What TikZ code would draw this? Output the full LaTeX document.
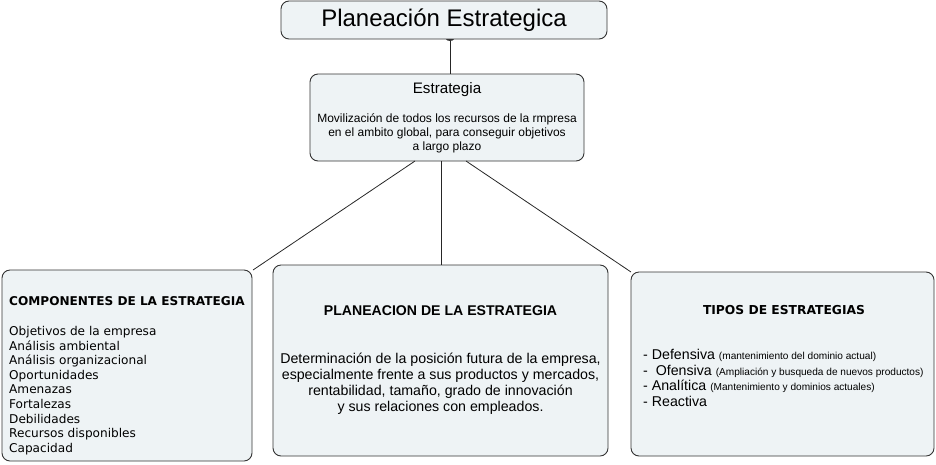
\documentclass[tikz,border=0pt]{standalone}
\usepackage{fontspec}
\setmainfont{Liberation Sans}
\newfontfamily\verd{DejaVu Sans}
\definecolor{boxfill}{HTML}{EEF3F5}
\definecolor{boxline}{HTML}{333333}
\begin{document}
\begin{tikzpicture}[x=1pt,y=-1pt,
  cbox/.style={draw=boxline,fill=boxfill,rounded corners=8pt,line width=0.9pt,inner sep=0pt},
  conn/.style={draw=black!85,line width=0.8pt},
  txt/.style={inner sep=0pt,align=center}]
\useasboundingbox (0,0) rectangle (936,464);
% boxes
\node[cbox,minimum width=326pt,minimum height=38pt] (top) at (444,20) {};
\node[cbox,minimum width=274pt,minimum height=87pt] (est) at (447,117.5) {};
\node[cbox,minimum width=250pt,minimum height=191pt] (comp) at (127,365.5) {};
\node[cbox,minimum width=335pt,minimum height=191pt] (plan) at (440.5,360.5) {};
\node[cbox,minimum width=303pt,minimum height=184pt] (tipos) at (782.5,364) {};
% texts
\node[txt,font=\fontsize{24}{26}\selectfont] (t1) at (444,20.5) {Planeación Estrategica};
\node[txt,font=\fontsize{15.2}{17}\selectfont] (t2) at (447,89.5) {Estrategia};
\node[txt,font=\fontsize{12}{14}\selectfont] (t3) at (447,133.5) {Movilización de todos los recursos de la rmpresa\\en el ambito global, para conseguir objetivos\\a largo plazo};
\node[txt,anchor=west,font=\verd\bfseries\fontsize{12.1}{14}\selectfont] (t4) at (9,301) {COMPONENTES DE LA ESTRATEGIA};
\node[txt,anchor=north west,align=left,font=\verd\fontsize{12.1}{14.6}\selectfont] (t5) at (9,326) {Objetivos de la empresa\\Análisis ambiental\\Análisis organizacional\\Oportunidades\\Amenazas\\Fortalezas\\Debilidades\\Recursos disponibles\\Capacidad};
\node[txt,font=\bfseries\fontsize{14.1}{16}\selectfont] (t6) at (440.5,311) {PLANEACION DE LA ESTRATEGIA};
\node[txt,font=\fontsize{14.2}{16}\selectfont] (t7) at (440.5,384) {Determinación de la posición futura de la empresa,\\especialmente frente a sus productos y mercados,\\rentabilidad, tamaño, grado de innovación\\y sus relaciones con empleados.};
\node[txt,font=\verd\bfseries\fontsize{12.3}{14}\selectfont] (t8) at (784,310) {TIPOS DE ESTRATEGIAS};
\node[txt,anchor=north west,align=left,font=\fontsize{14.2}{15.6}\selectfont] (t9) at (643,349) {- Defensiva {\fontsize{10.1}{10}\selectfont(mantenimiento del dominio actual)}\\-\ \ Ofensiva {\fontsize{10.1}{10}\selectfont(Ampliación y busqueda de nuevos productos)}\\- Analítica {\fontsize{10.1}{10}\selectfont(Mantenimiento y dominios actuales)}\\- Reactiva};
% connectors
\coordinate (a1) at (450,39);
\coordinate (a2) at (450,74);
\draw[conn] (a1) -- (a2);
\fill[black!80] (446,39) arc (180:360:4pt and 2pt) -- cycle;
\coordinate (b1) at (415,161);
\coordinate (b2) at (253,270);
\coordinate (c1) at (441,161);
\coordinate (c2) at (441,265);
\coordinate (d1) at (466,161);
\coordinate (d2) at (631,272);
\draw[conn] (b1) -- (b2);
\draw[conn] (c1) -- (c2);
\draw[conn] (d1) -- (d2);
\end{tikzpicture}
\end{document}
